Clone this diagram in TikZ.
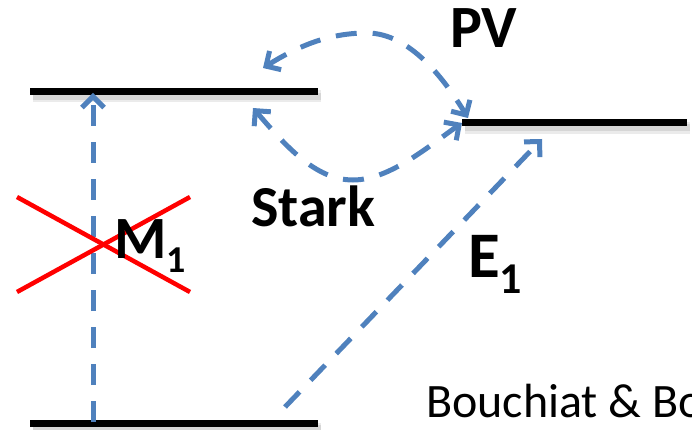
\documentclass[tikz,border=0pt]{standalone}
\usepackage{fontspec}
\setmainfont{Carlito}
\usetikzlibrary{arrows.meta}
\definecolor{arrblue}{RGB}{79,129,189}
\begin{document}
\begin{tikzpicture}[x=1pt,y=-1pt,
  level/.style={line width=7pt, black},
  lvlshadowA/.style={line width=12pt, black!8},
  lvlshadowB/.style={line width=7pt, black!16},
  trans/.style={arrblue, line width=5pt, dash pattern=on 21pt off 16pt},
  tipb/.tip={Straight Barb[length=11pt,width=22pt]},
  cross/.style={red, line width=4.5pt},
  lbl/.style={inner sep=0pt, anchor=base west}
]
\useasboundingbox (0,0) rectangle (692,430);
% level coordinates
\coordinate (upL) at (30,91.5);
\coordinate (upR) at (318,91.5);
\coordinate (rL) at (462,123);
\coordinate (rR) at (687,123);
\coordinate (loL) at (30,423.5);
\coordinate (loR) at (318,423.5);
% soft shadows
\foreach \a/\b in {upL/upR, rL/rR, loL/loR}{
  \draw[lvlshadowA] ([shift={(3,5)}]\a) -- ([shift={(3,5)}]\b);
  \draw[lvlshadowB] ([shift={(3,5)}]\a) -- ([shift={(3,5)}]\b);
}
% levels
\draw[level] (upL) -- (upR);
\draw[level] (rL) -- (rR);
\draw[level] (loL) -- (loR);
% transition end points
\coordinate (vbot) at (93,422);
\coordinate (vtop) at (93,93);
\coordinate (pvL) at (263,68);
\coordinate (pvTop) at (367,33);
\coordinate (pvR) at (468,118);
\coordinate (stL) at (253,108);
\coordinate (stBot) at (353,180);
\coordinate (stR) at (462,123);
\coordinate (e1a) at (285,407);
\coordinate (e1b) at (542,139);
% M1 (forbidden)
\draw[trans,-{tipb}] (vbot) -- (vtop);
% PV
\draw[trans,{tipb}-{tipb}] (pvL) .. controls (300,45) and (330,33) .. (pvTop)
  .. controls (410,33) and (445,80) .. (pvR);
% Stark
\draw[trans,{tipb}-{tipb}] (stL) .. controls (285,145) and (315,180) .. (stBot)
  .. controls (390,180) and (430,145) .. (stR);
% E1
\draw[trans,-{tipb}] (e1a) -- (e1b);
% red cross
\coordinate (c1) at (17,197);
\coordinate (c2) at (190,292);
\coordinate (c3) at (17,292);
\coordinate (c4) at (190,197);
\draw[cross] (c1) -- (c2);
\draw[cross] (c3) -- (c4);
% labels
\node[lbl, font=\bfseries\fontsize{60}{60}\selectfont] (pv) at (450,48) {PV};
\node[lbl, font=\bfseries\fontsize{58}{58}\selectfont] (stark) at (251,226) {Stark};
\node[lbl, font=\bfseries\fontsize{60}{60}\selectfont] (m1) at (114,258) {M\raisebox{-14pt}{\fontsize{38}{38}\selectfont 1}};
\node[lbl, font=\bfseries\fontsize{65}{65}\selectfont] (e1) at (468,277) {E\raisebox{-16pt}{\fontsize{44}{44}\selectfont 1}};
\node[lbl, font=\fontsize{48}{48}\selectfont] (ref) at (426,417) {Bouchiat \& Bouchiat};
\end{tikzpicture}
\end{document}
